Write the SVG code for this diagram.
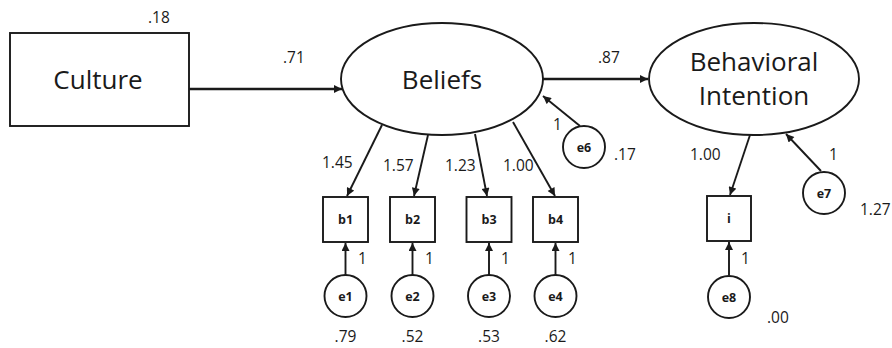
<svg xmlns="http://www.w3.org/2000/svg" width="892" height="348" viewBox="0 0 892 348">
<style>
.shape{fill:#fff;stroke:#1a1a1a;stroke-width:1.9}
.big{font-family:"Open Sans","Noto Sans",sans-serif;font-size:26px;fill:#1a1a1a;text-anchor:middle}
.num{font-family:"Open Sans","Noto Sans",sans-serif;font-size:15.5px;fill:#1a1a1a}
.lbl{font-family:"Open Sans","Noto Sans",sans-serif;font-size:12.5px;font-weight:bold;fill:#1a1a1a;text-anchor:middle}
.conn line{stroke:#1a1a1a;stroke-width:1.9;marker-end:url(#ah)}
.conn line.thick{stroke-width:2.6}
</style>
<defs>
<marker id="ah" viewBox="0 0 10 10" refX="10" refY="5" markerWidth="9" markerHeight="8" orient="auto" markerUnits="userSpaceOnUse">
<path d="M0,0 L10,5 L0,10 z" fill="#1a1a1a"/>
</marker>
</defs>
<rect width="892" height="348" fill="#fff"/>

<g class="conn">
<line class="thick" x1="189" y1="89" x2="342" y2="89"/>
<line class="thick" x1="543" y1="79" x2="648" y2="79"/>
<line x1="382" y1="125" x2="347" y2="196"/>
<line x1="428" y1="135" x2="414" y2="196"/>
<line x1="475" y1="134" x2="487" y2="196"/>
<line x1="513" y1="122" x2="555" y2="196"/>
<line x1="580" y1="126" x2="543" y2="96"/>
<line x1="750" y1="135" x2="730" y2="195"/>
<line x1="821" y1="171" x2="786" y2="134"/>
<line x1="345.5" y1="275" x2="345.5" y2="243"/>
<line x1="412.5" y1="275" x2="412.5" y2="243"/>
<line x1="489" y1="275" x2="489" y2="243"/>
<line x1="555.5" y1="275" x2="555.5" y2="243"/>
<line x1="729" y1="275" x2="729" y2="242"/>
</g>

<g id="culture">
<rect class="shape" x="10" y="33" width="179" height="93"/>
<text class="big" x="98" y="89">Culture</text>
<text class="num" x="148" y="23">.18</text>
</g>
<text class="num" x="283" y="63">.71</text>
<text class="num" x="598" y="63">.87</text>

<g id="beliefs">
<ellipse class="shape" cx="442" cy="79" rx="101" ry="56"/>
<text class="big" x="442" y="89">Beliefs</text>
</g>

<g id="bi">
<ellipse class="shape" cx="754" cy="79" rx="105" ry="56"/>
<text class="big" x="754" y="71">Behavioral</text>
<text class="big" x="754" y="105">Intention</text>
</g>

<g id="e6">
<circle class="shape" cx="584" cy="147" r="21"/>
<text class="lbl" x="584" y="152">e6</text>
<text class="num" x="553" y="130">1</text>
<text class="num" x="614" y="160">.17</text>
</g>

<text class="num" x="322" y="168">1.45</text>
<text class="num" x="383" y="171">1.57</text>
<text class="num" x="445" y="171">1.23</text>
<text class="num" x="503" y="171">1.00</text>
<text class="num" x="690" y="160">1.00</text>

<g id="b1">
<rect class="shape" x="323" y="197" width="45" height="45"/>
<text class="lbl" x="345.5" y="224">b1</text>
</g>
<g id="b2">
<rect class="shape" x="390" y="197" width="45" height="45"/>
<text class="lbl" x="412.5" y="224">b2</text>
</g>
<g id="b3">
<rect class="shape" x="466.5" y="197" width="45" height="45"/>
<text class="lbl" x="489" y="224">b3</text>
</g>
<g id="b4">
<rect class="shape" x="533" y="197" width="45" height="45"/>
<text class="lbl" x="555.5" y="224">b4</text>
</g>
<g id="i">
<rect class="shape" x="707" y="196" width="44" height="45"/>
<text class="lbl" x="729" y="223">i</text>
</g>

<g id="e1">
<circle class="shape" cx="345.5" cy="296" r="21"/>
<text class="lbl" x="345.5" y="301">e1</text>
<text class="num" x="358" y="264">1</text>
<text class="num" x="345.5" y="342" text-anchor="middle">.79</text>
</g>
<g id="e2">
<circle class="shape" cx="412.5" cy="296" r="21"/>
<text class="lbl" x="412.5" y="301">e2</text>
<text class="num" x="425" y="264">1</text>
<text class="num" x="412.5" y="342" text-anchor="middle">.52</text>
</g>
<g id="e3">
<circle class="shape" cx="489" cy="296" r="21"/>
<text class="lbl" x="489" y="301">e3</text>
<text class="num" x="501" y="264">1</text>
<text class="num" x="489" y="342" text-anchor="middle">.53</text>
</g>
<g id="e4">
<circle class="shape" cx="555.5" cy="296" r="21"/>
<text class="lbl" x="555.5" y="301">e4</text>
<text class="num" x="568" y="264">1</text>
<text class="num" x="555.5" y="342" text-anchor="middle">.62</text>
</g>
<g id="e7">
<circle class="shape" cx="824" cy="193" r="21"/>
<text class="lbl" x="824" y="198">e7</text>
<text class="num" x="829" y="160">1</text>
<text class="num" x="860" y="215">1.27</text>
</g>
<g id="e8">
<circle class="shape" cx="729" cy="297" r="21"/>
<text class="lbl" x="729" y="302">e8</text>
<text class="num" x="741" y="264">1</text>
<text class="num" x="767" y="323">.00</text>
</g>
</svg>
